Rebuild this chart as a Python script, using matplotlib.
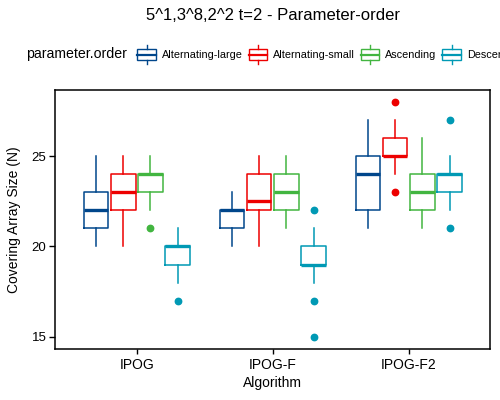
import matplotlib
matplotlib.use("Agg")
import matplotlib.pyplot as plt
from matplotlib.legend_handler import HandlerBase
from matplotlib.patches import Rectangle, Patch
from matplotlib.lines import Line2D

plt.rcParams['font.family'] = ['Liberation Sans', 'DejaVu Sans']

algorithms = ["IPOG", "IPOG-F", "IPOG-F2"]
orders = ["Alternating-large", "Alternating-small", "Ascending", "Descending"]
colors = ["#00468B", "#ED0000", "#42B540", "#0099B4"]

# per order: values for IPOG, IPOG-F, IPOG-F2
whislo = {
    "Alternating-large": [20, 20, 21],
    "Alternating-small": [20, 20, 24],
    "Ascending":         [22, 21, 21],
    "Descending":        [18, 18, 22],
}
q1 = {
    "Alternating-large": [21, 21, 22],
    "Alternating-small": [22, 22, 25],
    "Ascending":         [23, 22, 22],
    "Descending":        [19, 19, 23],
}
med = {
    "Alternating-large": [22, 22, 24],
    "Alternating-small": [23, 22.5, 25],
    "Ascending":         [24, 23, 23],
    "Descending":        [20, 19, 24],
}
q3 = {
    "Alternating-large": [23, 22, 25],
    "Alternating-small": [24, 24, 26],
    "Ascending":         [24, 24, 24],
    "Descending":        [20, 20, 24],
}
whishi = {
    "Alternating-large": [25, 23, 27],
    "Alternating-small": [25, 25, 27],
    "Ascending":         [25, 25, 26],
    "Descending":        [21, 21, 25],
}
fliers = {
    "Alternating-large": [[], [], []],
    "Alternating-small": [[], [], [23, 28]],
    "Ascending":         [[21], [], []],
    "Descending":        [[17], [22, 17, 15], [27, 21]],
}

fig = plt.figure(figsize=(5, 4), dpi=100)
ax = fig.add_axes([55.3/500, 1-348.7/400, (490.3-55.3)/500, (348.7-90)/400])

dodge = 0.2
box_w = 0.18
lw = 1.1
for k, (o, c) in enumerate(zip(orders, colors)):
    stats = []
    for i in range(len(algorithms)):
        stats.append(dict(whislo=whislo[o][i], q1=q1[o][i], med=med[o][i],
                          q3=q3[o][i], whishi=whishi[o][i], fliers=fliers[o][i]))
    pos = [i + 1 + (k - 1.5) * dodge for i in range(len(algorithms))]
    ax.bxp(stats, positions=pos, widths=box_w, showcaps=False, manage_ticks=False,
           boxprops=dict(color=c, linewidth=lw),
           whiskerprops=dict(color=c, linewidth=lw),
           medianprops=dict(color=c, linewidth=2.4, solid_capstyle='butt'),
           flierprops=dict(marker='o', markerfacecolor=c, markeredgecolor=c,
                           markersize=4.6, linestyle='none'))

ax.set_xlim(0.4, 3.6)
ax.set_ylim(14.35, 28.65)
ax.set_xticks(range(1, len(algorithms) + 1))
ax.set_xticklabels(algorithms, fontsize=10)
ax.set_yticks([15, 20, 25])
ax.tick_params(axis='y', labelsize=9.5, length=4.3, width=1.0, pad=2, colors='black')
ax.tick_params(axis='x', length=3.5, width=1.0, pad=3, colors='black')
for s in ax.spines.values():
    s.set_linewidth(1.1)
    s.set_color('black')

fig.text((55.3+490.3)/2/500, 1-383/400, "Algorithm", ha='center', va='center', fontsize=10)
fig.text(14/500, 1-219.5/400, "Covering Array Size (N)", ha='center', va='center',
         rotation=90, fontsize=10)
fig.text(272.8/500, 1-15.3/400, "5^1,3^8,2^2 t=2 - Parameter-order", ha='center',
         va='center', fontsize=12)
fig.text(26/500, 1-54/400, "parameter.order", ha='left', va='center', fontsize=10.2)


class BoxKeyHandler(HandlerBase):
    def create_artists(self, legend, orig_handle, xdescent, ydescent, width, height,
                       fontsize, trans):
        c = orig_handle.get_edgecolor()
        x0, y0 = -xdescent, -ydescent
        bh = height * 0.58
        by = y0 + (height - bh) / 2
        rect = Rectangle((x0, by), width, bh, facecolor='white', edgecolor=c,
                         linewidth=1.0, transform=trans)
        cx = x0 + width / 2
        l1 = Line2D([cx, cx], [y0, by], color=c, linewidth=1.0, transform=trans)
        l2 = Line2D([cx, cx], [by + bh, y0 + height], color=c, linewidth=1.0, transform=trans)
        l3 = Line2D([x0, x0 + width], [by + bh / 2] * 2, color=c, linewidth=1.6,
                    transform=trans)
        return [rect, l1, l2, l3]


handles = [Patch(edgecolor=c, facecolor='white') for c in colors]
fig.legend(handles, orders, handler_map={Patch: BoxKeyHandler()}, ncol=4,
           loc='center left', bbox_to_anchor=(137.3/500, 1-54.5/400), frameon=False,
           fontsize=7.8, handlelength=1.72, handleheight=2.46, handletextpad=0.55,
           columnspacing=0.53, borderpad=0, borderaxespad=0)

fig.savefig("out.png", dpi=100, facecolor='white')
